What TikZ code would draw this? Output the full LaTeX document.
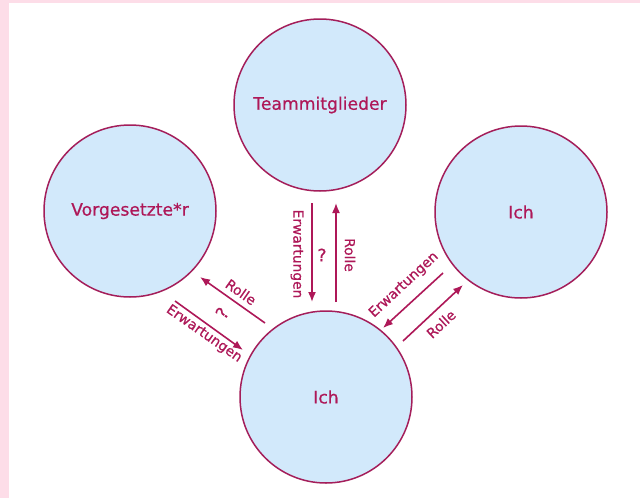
\documentclass[tikz,border=0pt]{standalone}
\usepackage{fontspec}
\setmainfont{DejaVu Sans}[UprightFeatures={FakeBold=0.6}]
\usetikzlibrary{arrows.meta}
\definecolor{mag}{HTML}{AE1858}
\definecolor{ring}{HTML}{A41E5A}
\definecolor{bubble}{HTML}{D2E9FB}
\definecolor{edge}{HTML}{FDDDE8}
\begin{document}
\begin{tikzpicture}[x=1pt,y=-1pt,
  bub/.style={circle,draw=ring,line width=1.5pt,fill=bubble,minimum size=172pt,inner sep=0pt,
    text=mag,font=\fontsize{17.2}{19}\selectfont},
  arr/.style={draw=mag,line width=1.6pt,-{Latex[length=10pt,width=8pt]}},
  lab/.style={text=mag,font=\fontsize{13.8}{15}\selectfont,inner sep=0pt},
  q/.style={text=mag,font=\fontsize{17}{18}\selectfont,inner sep=0pt}]
\useasboundingbox (0,0) rectangle (640,498);
\fill[edge] (0,0) rectangle (640,498);
\fill[white] (9,3) rectangle (640,498);
\node[bub] (team) at (320,105) {Teammitglieder};
\node[bub] (boss) at (130,211) {Vorgesetzte*r};
\node[bub] (ichr) at (521,212) {Ich};
\node[bub] (ich) at (326,397) {Ich};
% vertical pair
\coordinate (v1s) at (312,203); \coordinate (v1e) at (312,302);
\coordinate (v2s) at (336,302); \coordinate (v2e) at (336,203);
\draw[arr] (v1s) -- (v1e);
\draw[arr] (v2s) -- (v2e);
\node[lab,rotate=-90] (vl1) at (297,254) {Erwartungen};
\node[lab,rotate=-90] (vl2) at (350,255) {Rolle};
\node[q] (vq) at (322,255) {?};
% left pair
\coordinate (l1s) at (265,323); \coordinate (l1e) at (200,277);
\coordinate (l2s) at (175,301); \coordinate (l2e) at (243,350);
\draw[arr] (l1s) -- (l1e);
\draw[arr] (l2s) -- (l2e);
\node[lab,rotate=-35] (ll1) at (241,292) {Rolle};
\node[lab,rotate=-35] (ll2) at (204,334) {Erwartungen};
\node[q,rotate=55] (lq) at (222,313) {?};
% right pair
\coordinate (r1s) at (443,273); \coordinate (r1e) at (383,328);
\coordinate (r2s) at (403,341); \coordinate (r2e) at (463,285);
\draw[arr] (r1s) -- (r1e);
\draw[arr] (r2s) -- (r2e);
\node[lab,rotate=43] (rl1) at (404,285) {Erwartungen};
\node[lab,rotate=43] (rl2) at (441,324) {Rolle};
\end{tikzpicture}
\end{document}
